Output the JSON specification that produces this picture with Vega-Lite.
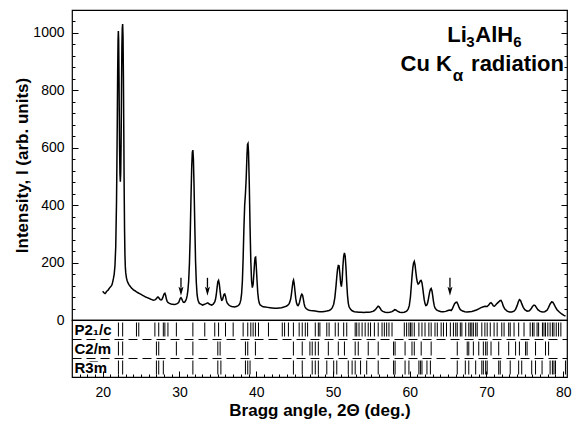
{
"$schema": "https://vega.github.io/schema/vega-lite/v6.json",
"padding": {"left": 13, "top": 8, "right": 6, "bottom": 5},
"background": "white",
"bounds": "flush",
"config": {
  "view": {"stroke": "black", "strokeWidth": 1.2},
  "font": "Liberation Sans",
  "axis": {"labelFont": "Liberation Sans", "labelFontSize": 14, "labelColor": "black", "titleFont": "Liberation Sans", "titleFontSize": 17, "titleFontWeight": "bold", "titleColor": "black", "tickColor": "black", "tickWidth": 1, "domain": false, "grid": false}
},
"datasets": {
"xrd": [
{"a":20.0,"i":100},{"a":20.1,"i":97},{"a":20.2,"i":94},{"a":20.3,"i":92},{"a":20.4,"i":95},{"a":20.5,"i":99},{"a":20.6,"i":102},{"a":20.7,"i":104},{"a":20.8,"i":108},{"a":20.9,"i":112},{"a":21.0,"i":115},{"a":21.1,"i":118},{"a":21.2,"i":122},{"a":21.3,"i":132},{"a":21.4,"i":145},{"a":21.5,"i":160},{"a":21.6,"i":190},{"a":21.7,"i":255},{"a":21.8,"i":410},{"a":21.85,"i":540},{"a":21.9,"i":690},{"a":21.95,"i":860},{"a":22.0,"i":975},{"a":22.04,"i":1007},{"a":22.08,"i":975},{"a":22.12,"i":860},{"a":22.16,"i":720},{"a":22.2,"i":600},{"a":22.25,"i":510},{"a":22.3,"i":482},{"a":22.35,"i":515},{"a":22.4,"i":620},{"a":22.45,"i":800},{"a":22.5,"i":950},{"a":22.55,"i":1015},{"a":22.6,"i":1031},{"a":22.65,"i":985},{"a":22.7,"i":850},{"a":22.75,"i":650},{"a":22.8,"i":450},{"a":22.85,"i":310},{"a":22.9,"i":225},{"a":22.95,"i":185},{"a":23.0,"i":165},{"a":23.1,"i":146},{"a":23.2,"i":136},{"a":23.3,"i":129},{"a":23.4,"i":124},{"a":23.5,"i":120},{"a":23.6,"i":117},{"a":23.7,"i":113},{"a":23.8,"i":110},{"a":23.9,"i":108},{"a":24.0,"i":105},{"a":24.2,"i":102},{"a":24.4,"i":98},{"a":24.6,"i":95},{"a":24.8,"i":92},{"a":25.0,"i":89},{"a":25.2,"i":86},{"a":25.4,"i":83},{"a":25.6,"i":80},{"a":25.8,"i":78},{"a":26.0,"i":76},{"a":26.2,"i":73},{"a":26.4,"i":71},{"a":26.6,"i":69},{"a":26.8,"i":70},{"a":26.9,"i":72},{"a":27.0,"i":75},{"a":27.1,"i":78},{"a":27.2,"i":80},{"a":27.3,"i":78},{"a":27.4,"i":74},{"a":27.5,"i":71},{"a":27.6,"i":70},{"a":27.7,"i":71},{"a":27.8,"i":76},{"a":27.9,"i":84},{"a":28.0,"i":91},{"a":28.1,"i":93},{"a":28.2,"i":86},{"a":28.3,"i":73},{"a":28.4,"i":65},{"a":28.5,"i":61},{"a":28.7,"i":58},{"a":28.9,"i":56},{"a":29.1,"i":55},{"a":29.3,"i":54},{"a":29.5,"i":55},{"a":29.7,"i":57},{"a":29.9,"i":61},{"a":30.0,"i":68},{"a":30.1,"i":75},{"a":30.2,"i":78},{"a":30.3,"i":74},{"a":30.4,"i":67},{"a":30.5,"i":62},{"a":30.6,"i":61},{"a":30.7,"i":63},{"a":30.8,"i":67},{"a":30.9,"i":73},{"a":31.0,"i":84},{"a":31.1,"i":102},{"a":31.2,"i":135},{"a":31.3,"i":195},{"a":31.4,"i":290},{"a":31.5,"i":420},{"a":31.6,"i":535},{"a":31.68,"i":585},{"a":31.75,"i":592},{"a":31.82,"i":560},{"a":31.9,"i":470},{"a":32.0,"i":330},{"a":32.1,"i":205},{"a":32.2,"i":130},{"a":32.3,"i":88},{"a":32.4,"i":71},{"a":32.5,"i":63},{"a":32.6,"i":58},{"a":32.8,"i":55},{"a":33.0,"i":52},{"a":33.2,"i":54},{"a":33.4,"i":56},{"a":33.6,"i":59},{"a":33.7,"i":60},{"a":33.8,"i":57},{"a":34.0,"i":54},{"a":34.2,"i":52},{"a":34.4,"i":55},{"a":34.6,"i":63},{"a":34.7,"i":72},{"a":34.8,"i":88},{"a":34.9,"i":112},{"a":35.0,"i":133},{"a":35.1,"i":138},{"a":35.2,"i":125},{"a":35.3,"i":100},{"a":35.4,"i":79},{"a":35.5,"i":69},{"a":35.6,"i":70},{"a":35.7,"i":79},{"a":35.8,"i":89},{"a":35.9,"i":91},{"a":36.0,"i":83},{"a":36.1,"i":69},{"a":36.2,"i":60},{"a":36.4,"i":53},{"a":36.6,"i":49},{"a":36.8,"i":47},{"a":37.0,"i":46},{"a":37.2,"i":45},{"a":37.4,"i":47},{"a":37.6,"i":49},{"a":37.8,"i":54},{"a":37.9,"i":60},{"a":38.0,"i":70},{"a":38.1,"i":92},{"a":38.2,"i":135},{"a":38.3,"i":215},{"a":38.4,"i":320},{"a":38.5,"i":400},{"a":38.6,"i":440},{"a":38.7,"i":495},{"a":38.8,"i":575},{"a":38.87,"i":612},{"a":38.93,"i":615},{"a":39.0,"i":585},{"a":39.1,"i":475},{"a":39.2,"i":325},{"a":39.3,"i":205},{"a":39.4,"i":135},{"a":39.5,"i":113},{"a":39.6,"i":124},{"a":39.7,"i":162},{"a":39.8,"i":203},{"a":39.87,"i":218},{"a":39.93,"i":219},{"a":40.0,"i":192},{"a":40.1,"i":142},{"a":40.2,"i":97},{"a":40.3,"i":72},{"a":40.4,"i":59},{"a":40.5,"i":53},{"a":40.7,"i":49},{"a":40.9,"i":46},{"a":41.2,"i":45},{"a":41.5,"i":44},{"a":41.8,"i":43},{"a":42.1,"i":42},{"a":42.4,"i":41},{"a":42.7,"i":41},{"a":43.0,"i":42},{"a":43.3,"i":43},{"a":43.6,"i":45},{"a":43.9,"i":48},{"a":44.1,"i":51},{"a":44.3,"i":57},{"a":44.4,"i":64},{"a":44.5,"i":74},{"a":44.6,"i":92},{"a":44.7,"i":115},{"a":44.8,"i":134},{"a":44.87,"i":139},{"a":44.95,"i":128},{"a":45.05,"i":102},{"a":45.15,"i":76},{"a":45.25,"i":60},{"a":45.35,"i":52},{"a":45.45,"i":50},{"a":45.55,"i":54},{"a":45.65,"i":62},{"a":45.75,"i":74},{"a":45.85,"i":85},{"a":45.95,"i":90},{"a":46.05,"i":86},{"a":46.15,"i":72},{"a":46.25,"i":56},{"a":46.35,"i":46},{"a":46.5,"i":40},{"a":46.7,"i":36},{"a":46.9,"i":34},{"a":47.1,"i":33},{"a":47.4,"i":32},{"a":47.7,"i":31},{"a":48.0,"i":30},{"a":48.3,"i":29},{"a":48.6,"i":29},{"a":48.9,"i":30},{"a":49.2,"i":31},{"a":49.5,"i":33},{"a":49.7,"i":36},{"a":49.9,"i":42},{"a":50.1,"i":55},{"a":50.25,"i":78},{"a":50.4,"i":118},{"a":50.5,"i":150},{"a":50.6,"i":176},{"a":50.7,"i":190},{"a":50.8,"i":189},{"a":50.9,"i":163},{"a":51.0,"i":130},{"a":51.1,"i":116},{"a":51.2,"i":138},{"a":51.3,"i":188},{"a":51.4,"i":222},{"a":51.5,"i":234},{"a":51.6,"i":222},{"a":51.7,"i":182},{"a":51.8,"i":128},{"a":51.9,"i":85},{"a":52.0,"i":59},{"a":52.1,"i":46},{"a":52.3,"i":37},{"a":52.5,"i":32},{"a":52.8,"i":29},{"a":53.1,"i":28},{"a":53.4,"i":27},{"a":53.7,"i":27},{"a":54.0,"i":26},{"a":54.3,"i":27},{"a":54.6,"i":27},{"a":54.9,"i":28},{"a":55.2,"i":30},{"a":55.4,"i":33},{"a":55.6,"i":38},{"a":55.75,"i":44},{"a":55.9,"i":48},{"a":56.0,"i":47},{"a":56.15,"i":41},{"a":56.3,"i":34},{"a":56.5,"i":30},{"a":56.8,"i":27},{"a":57.1,"i":26},{"a":57.4,"i":27},{"a":57.7,"i":29},{"a":57.9,"i":33},{"a":58.05,"i":36},{"a":58.2,"i":35},{"a":58.4,"i":31},{"a":58.7,"i":27},{"a":59.0,"i":26},{"a":59.3,"i":27},{"a":59.6,"i":31},{"a":59.8,"i":38},{"a":59.95,"i":50},{"a":60.1,"i":80},{"a":60.2,"i":115},{"a":60.3,"i":150},{"a":60.4,"i":180},{"a":60.5,"i":198},{"a":60.6,"i":204},{"a":60.7,"i":192},{"a":60.8,"i":168},{"a":60.9,"i":146},{"a":61.0,"i":131},{"a":61.1,"i":125},{"a":61.2,"i":127},{"a":61.3,"i":132},{"a":61.4,"i":137},{"a":61.5,"i":138},{"a":61.6,"i":130},{"a":61.7,"i":112},{"a":61.8,"i":90},{"a":61.9,"i":70},{"a":62.0,"i":57},{"a":62.1,"i":50},{"a":62.2,"i":51},{"a":62.3,"i":56},{"a":62.4,"i":67},{"a":62.5,"i":82},{"a":62.6,"i":97},{"a":62.7,"i":107},{"a":62.8,"i":110},{"a":62.9,"i":102},{"a":63.0,"i":85},{"a":63.1,"i":65},{"a":63.2,"i":50},{"a":63.3,"i":42},{"a":63.5,"i":35},{"a":63.8,"i":31},{"a":64.1,"i":29},{"a":64.4,"i":29},{"a":64.7,"i":30},{"a":64.9,"i":32},{"a":65.1,"i":34},{"a":65.25,"i":35},{"a":65.4,"i":33},{"a":65.55,"i":38},{"a":65.7,"i":48},{"a":65.85,"i":57},{"a":66.0,"i":61},{"a":66.15,"i":62},{"a":66.3,"i":54},{"a":66.45,"i":43},{"a":66.6,"i":36},{"a":66.9,"i":31},{"a":67.2,"i":29},{"a":67.5,"i":28},{"a":67.8,"i":29},{"a":68.1,"i":30},{"a":68.4,"i":32},{"a":68.7,"i":35},{"a":69.0,"i":39},{"a":69.3,"i":43},{"a":69.6,"i":46},{"a":69.85,"i":48},{"a":70.1,"i":47},{"a":70.3,"i":52},{"a":70.45,"i":58},{"a":70.6,"i":60},{"a":70.75,"i":56},{"a":70.9,"i":49},{"a":71.05,"i":48},{"a":71.2,"i":52},{"a":71.4,"i":58},{"a":71.6,"i":63},{"a":71.75,"i":67},{"a":71.9,"i":68},{"a":72.05,"i":61},{"a":72.2,"i":48},{"a":72.4,"i":38},{"a":72.7,"i":31},{"a":73.0,"i":28},{"a":73.3,"i":28},{"a":73.6,"i":31},{"a":73.8,"i":37},{"a":74.0,"i":50},{"a":74.15,"i":63},{"a":74.3,"i":71},{"a":74.45,"i":68},{"a":74.6,"i":57},{"a":74.8,"i":44},{"a":75.0,"i":36},{"a":75.3,"i":31},{"a":75.6,"i":32},{"a":75.8,"i":38},{"a":76.0,"i":47},{"a":76.2,"i":52},{"a":76.35,"i":50},{"a":76.5,"i":44},{"a":76.7,"i":36},{"a":77.0,"i":30},{"a":77.3,"i":28},{"a":77.6,"i":29},{"a":77.9,"i":34},{"a":78.1,"i":44},{"a":78.3,"i":56},{"a":78.5,"i":63},{"a":78.65,"i":62},{"a":78.8,"i":55},{"a":79.0,"i":45},{"a":79.2,"i":36},{"a":79.5,"i":28},{"a":79.8,"i":21},{"a":80.1,"i":16},{"a":80.3,"i":14}
],
"arrows": [{"a":30.2},{"a":33.65},{"a":65.25}],
"hkl": [
{"p":"P2₁/c","a":22.05},{"p":"P2₁/c","a":22.6},{"p":"P2₁/c","a":24.4},{"p":"P2₁/c","a":24.7},{"p":"P2₁/c","a":26.8},{"p":"P2₁/c","a":27.3},{"p":"P2₁/c","a":27.9},{"p":"P2₁/c","a":28.1},{"p":"P2₁/c","a":28.5},{"p":"P2₁/c","a":29.6},{"p":"P2₁/c","a":31.75},{"p":"P2₁/c","a":33.3},{"p":"P2₁/c","a":34.6},{"p":"P2₁/c","a":35.1},{"p":"P2₁/c","a":36.0},{"p":"P2₁/c","a":37.0},{"p":"P2₁/c","a":38.3},{"p":"P2₁/c","a":38.9},{"p":"P2₁/c","a":39.3},{"p":"P2₁/c","a":39.6},{"p":"P2₁/c","a":39.9},{"p":"P2₁/c","a":40.3},{"p":"P2₁/c","a":41.6},{"p":"P2₁/c","a":43.4},{"p":"P2₁/c","a":43.7},{"p":"P2₁/c","a":44.2},{"p":"P2₁/c","a":44.85},{"p":"P2₁/c","a":45.6},{"p":"P2₁/c","a":46.0},{"p":"P2₁/c","a":46.4},{"p":"P2₁/c","a":46.7},{"p":"P2₁/c","a":47.7},{"p":"P2₁/c","a":48.1},{"p":"P2₁/c","a":48.3},{"p":"P2₁/c","a":49.2},{"p":"P2₁/c","a":49.5},{"p":"P2₁/c","a":50.3},{"p":"P2₁/c","a":50.7},{"p":"P2₁/c","a":51.4},{"p":"P2₁/c","a":51.8},{"p":"P2₁/c","a":52.9},{"p":"P2₁/c","a":53.1},{"p":"P2₁/c","a":53.4},{"p":"P2₁/c","a":53.8},{"p":"P2₁/c","a":54.2},{"p":"P2₁/c","a":54.6},{"p":"P2₁/c","a":54.9},{"p":"P2₁/c","a":55.4},{"p":"P2₁/c","a":55.9},{"p":"P2₁/c","a":56.4},{"p":"P2₁/c","a":56.7},{"p":"P2₁/c","a":57.0},{"p":"P2₁/c","a":57.3},{"p":"P2₁/c","a":57.7},{"p":"P2₁/c","a":59.3},{"p":"P2₁/c","a":59.6},{"p":"P2₁/c","a":59.9},{"p":"P2₁/c","a":60.1},{"p":"P2₁/c","a":60.3},{"p":"P2₁/c","a":60.6},{"p":"P2₁/c","a":61.2},{"p":"P2₁/c","a":61.6},{"p":"P2₁/c","a":62.0},{"p":"P2₁/c","a":62.5},{"p":"P2₁/c","a":62.8},{"p":"P2₁/c","a":63.3},{"p":"P2₁/c","a":63.6},{"p":"P2₁/c","a":64.1},{"p":"P2₁/c","a":64.4},{"p":"P2₁/c","a":64.8},{"p":"P2₁/c","a":65.3},{"p":"P2₁/c","a":65.7},{"p":"P2₁/c","a":66.0},{"p":"P2₁/c","a":66.2},{"p":"P2₁/c","a":66.6},{"p":"P2₁/c","a":66.8},{"p":"P2₁/c","a":67.3},{"p":"P2₁/c","a":67.7},{"p":"P2₁/c","a":67.9},{"p":"P2₁/c","a":68.1},{"p":"P2₁/c","a":68.3},{"p":"P2₁/c","a":68.6},{"p":"P2₁/c","a":68.8},{"p":"P2₁/c","a":69.4},{"p":"P2₁/c","a":69.8},{"p":"P2₁/c","a":70.1},{"p":"P2₁/c","a":70.5},{"p":"P2₁/c","a":71.0},{"p":"P2₁/c","a":71.4},{"p":"P2₁/c","a":72.0},{"p":"P2₁/c","a":72.3},{"p":"P2₁/c","a":72.9},{"p":"P2₁/c","a":73.1},{"p":"P2₁/c","a":73.6},{"p":"P2₁/c","a":74.2},{"p":"P2₁/c","a":74.9},{"p":"P2₁/c","a":75.7},{"p":"P2₁/c","a":76.0},{"p":"P2₁/c","a":76.2},{"p":"P2₁/c","a":76.6},{"p":"P2₁/c","a":76.8},{"p":"P2₁/c","a":77.3},{"p":"P2₁/c","a":77.5},{"p":"P2₁/c","a":77.7},{"p":"P2₁/c","a":78.0},{"p":"P2₁/c","a":78.3},{"p":"P2₁/c","a":78.6},{"p":"P2₁/c","a":78.8},{"p":"P2₁/c","a":79.1},{"p":"P2₁/c","a":79.4},{"p":"P2₁/c","a":79.7},
{"p":"C2/m","a":22.05},{"p":"C2/m","a":22.6},{"p":"C2/m","a":27.0},{"p":"C2/m","a":27.3},{"p":"C2/m","a":29.6},{"p":"C2/m","a":31.75},{"p":"C2/m","a":35.0},{"p":"C2/m","a":35.3},{"p":"C2/m","a":38.6},{"p":"C2/m","a":38.9},{"p":"C2/m","a":39.9},{"p":"C2/m","a":44.85},{"p":"C2/m","a":46.0},{"p":"C2/m","a":47.0},{"p":"C2/m","a":47.3},{"p":"C2/m","a":47.7},{"p":"C2/m","a":48.1},{"p":"C2/m","a":49.4},{"p":"C2/m","a":50.7},{"p":"C2/m","a":51.5},{"p":"C2/m","a":52.9},{"p":"C2/m","a":53.3},{"p":"C2/m","a":54.6},{"p":"C2/m","a":55.9},{"p":"C2/m","a":57.9},{"p":"C2/m","a":58.1},{"p":"C2/m","a":59.4},{"p":"C2/m","a":60.3},{"p":"C2/m","a":60.6},{"p":"C2/m","a":61.5},{"p":"C2/m","a":62.8},{"p":"C2/m","a":66.2},{"p":"C2/m","a":67.5},{"p":"C2/m","a":67.7},{"p":"C2/m","a":68.3},{"p":"C2/m","a":69.0},{"p":"C2/m","a":69.6},{"p":"C2/m","a":69.9},{"p":"C2/m","a":70.1},{"p":"C2/m","a":70.6},{"p":"C2/m","a":71.6},{"p":"C2/m","a":72.9},{"p":"C2/m","a":73.8},{"p":"C2/m","a":74.3},{"p":"C2/m","a":75.1},{"p":"C2/m","a":75.3},{"p":"C2/m","a":76.4},{"p":"C2/m","a":77.7},{"p":"C2/m","a":78.1},
{"p":"R3̅m","a":22.05},{"p":"R3̅m","a":22.6},{"p":"R3̅m","a":27.0},{"p":"R3̅m","a":27.3},{"p":"R3̅m","a":27.9},{"p":"R3̅m","a":31.75},{"p":"R3̅m","a":35.0},{"p":"R3̅m","a":35.4},{"p":"R3̅m","a":38.6},{"p":"R3̅m","a":38.9},{"p":"R3̅m","a":39.2},{"p":"R3̅m","a":44.85},{"p":"R3̅m","a":46.0},{"p":"R3̅m","a":47.3},{"p":"R3̅m","a":47.7},{"p":"R3̅m","a":48.1},{"p":"R3̅m","a":49.2},{"p":"R3̅m","a":50.1},{"p":"R3̅m","a":50.5},{"p":"R3̅m","a":52.0},{"p":"R3̅m","a":52.5},{"p":"R3̅m","a":52.9},{"p":"R3̅m","a":53.6},{"p":"R3̅m","a":54.4},{"p":"R3̅m","a":55.9},{"p":"R3̅m","a":57.9},{"p":"R3̅m","a":58.1},{"p":"R3̅m","a":59.4},{"p":"R3̅m","a":59.9},{"p":"R3̅m","a":61.2},{"p":"R3̅m","a":61.4},{"p":"R3̅m","a":61.6},{"p":"R3̅m","a":62.25},{"p":"R3̅m","a":62.7},{"p":"R3̅m","a":66.2},{"p":"R3̅m","a":67.25},{"p":"R3̅m","a":67.7},{"p":"R3̅m","a":68.6},{"p":"R3̅m","a":69.4},{"p":"R3̅m","a":69.6},{"p":"R3̅m","a":69.9},{"p":"R3̅m","a":70.1},{"p":"R3̅m","a":71.6},{"p":"R3̅m","a":71.8},{"p":"R3̅m","a":73.1},{"p":"R3̅m","a":74.2},{"p":"R3̅m","a":74.6},{"p":"R3̅m","a":75.9},{"p":"R3̅m","a":76.4},{"p":"R3̅m","a":77.25},{"p":"R3̅m","a":78.3},{"p":"R3̅m","a":78.6},{"p":"R3̅m","a":78.8},{"p":"R3̅m","a":79.0},{"p":"R3̅m","a":80.3}
]
},
"spacing": 0,
"vconcat": [
{
  "width": 495, "height": 310,
  "resolve": {"axis": {"y": "independent"}},
  "layer": [
    {
      "data": {"name": "xrd"},
      "mark": {"type": "line", "color": "black", "strokeWidth": 1.5},
      "encoding": {
        "x": {"field": "a", "type": "quantitative", "scale": {"domain": [16, 80.5], "nice": false, "zero": false},
          "axis": {"orient": "top", "values": [17,18,19,20,21,22,23,24,25,26,27,28,29,30,31,32,33,34,35,36,37,38,39,40,41,42,43,44,45,46,47,48,49,50,51,52,53,54,55,56,57,58,59,60,61,62,63,64,65,66,67,68,69,70,71,72,73,74,75,76,77,78,79,80], "labels": false, "title": null,
            "tickSize": {"condition": {"test": "datum.value % 10 === 0", "value": -6}, "value": -3}}},
        "y": {"field": "i", "type": "quantitative", "scale": {"domain": [0, 1080], "nice": false},
          "axis": {"orient": "left", "values": [0,40,80,120,160,200,240,280,320,360,400,440,480,520,560,600,640,680,720,760,800,840,880,920,960,1000,1040,1080],
            "format": "d", "labelExpr": "datum.value % 200 === 0 ? datum.label : ''", "labelPadding": 14, "titlePadding": 1,
            "tickSize": {"condition": {"test": "datum.value % 200 === 0", "value": -6}, "value": -3},
            "title": "Intensity, I (arb. units)"}}
      }
    },
    {
      "data": {"name": "arrows"},
      "mark": {"type": "rule", "color": "black", "strokeWidth": 1.3},
      "encoding": {
        "x": {"field": "a", "type": "quantitative", "axis": null},
        "y": {"datum": 147, "type": "quantitative",
          "axis": {"orient": "right", "values": [0,40,80,120,160,200,240,280,320,360,400,440,480,520,560,600,640,680,720,760,800,840,880,920,960,1000,1040,1080], "labels": false, "title": null,
            "tickSize": {"condition": {"test": "datum.value % 200 === 0", "value": -6}, "value": -3}}},
        "y2": {"datum": 112}
      }
    },
    {
      "data": {"name": "arrows"},
      "mark": {"type": "point", "shape": "M-0.55,-1L0,-0.6L0.55,-1L0,1Z", "filled": true, "color": "black", "size": 81, "opacity": 1},
      "encoding": {
        "x": {"field": "a", "type": "quantitative", "axis": null},
        "y": {"datum": 100, "type": "quantitative", "axis": null}
      }
    },
    {
      "data": {"values": [{"t": "Li"}]},
      "mark": {"type": "text", "font": "Liberation Sans", "fontWeight": "bold", "fontSize": 22, "align": "left", "baseline": "alphabetic", "color": "black"},
      "encoding": {"x": {"datum": 64.9, "type": "quantitative", "axis": null}, "y": {"datum": 970, "type": "quantitative", "axis": null}, "text": {"field": "t"}}
    },
    {
      "data": {"values": [{"t": "3"}]},
      "mark": {"type": "text", "font": "Liberation Sans", "fontWeight": "bold", "fontSize": 15, "align": "left", "baseline": "alphabetic", "color": "black", "dx": 19, "dy": 5},
      "encoding": {"x": {"datum": 64.9, "type": "quantitative", "axis": null}, "y": {"datum": 970, "type": "quantitative", "axis": null}, "text": {"field": "t"}}
    },
    {
      "data": {"values": [{"t": "AlH"}]},
      "mark": {"type": "text", "font": "Liberation Sans", "fontWeight": "bold", "fontSize": 22, "align": "left", "baseline": "alphabetic", "color": "black", "dx": 28},
      "encoding": {"x": {"datum": 64.9, "type": "quantitative", "axis": null}, "y": {"datum": 970, "type": "quantitative", "axis": null}, "text": {"field": "t"}}
    },
    {
      "data": {"values": [{"t": "6"}]},
      "mark": {"type": "text", "font": "Liberation Sans", "fontWeight": "bold", "fontSize": 15, "align": "left", "baseline": "alphabetic", "color": "black", "dx": 66, "dy": 5},
      "encoding": {"x": {"datum": 64.9, "type": "quantitative", "axis": null}, "y": {"datum": 970, "type": "quantitative", "axis": null}, "text": {"field": "t"}}
    },
    {
      "data": {"values": [{"t": "Cu K"}]},
      "mark": {"type": "text", "font": "Liberation Sans", "fontWeight": "bold", "fontSize": 22, "align": "right", "baseline": "alphabetic", "color": "black"},
      "encoding": {"x": {"datum": 65.5, "type": "quantitative", "axis": null}, "y": {"datum": 869, "type": "quantitative", "axis": null}, "text": {"field": "t"}}
    },
    {
      "data": {"values": [{"t": "α"}]},
      "mark": {"type": "text", "font": "Liberation Sans", "fontWeight": "bold", "fontSize": 17, "align": "left", "baseline": "alphabetic", "color": "black"},
      "encoding": {"x": {"datum": 65.6, "type": "quantitative", "axis": null}, "y": {"datum": 833, "type": "quantitative", "axis": null}, "text": {"field": "t"}}
    },
    {
      "data": {"values": [{"t": "radiation"}]},
      "mark": {"type": "text", "font": "Liberation Sans", "fontWeight": "bold", "fontSize": 22, "align": "left", "baseline": "alphabetic", "color": "black"},
      "encoding": {"x": {"datum": 68.0, "type": "quantitative", "axis": null}, "y": {"datum": 869, "type": "quantitative", "axis": null}, "text": {"field": "t"}}
    }
  ]
},
{
  "width": 495, "height": 57,
  "data": {"name": "hkl"},
  "mark": {"type": "tick", "color": "black", "thickness": 1, "size": 14, "opacity": 1},
  "encoding": {
    "x": {"field": "a", "type": "quantitative", "scale": {"domain": [16, 80.5], "nice": false, "zero": false},
      "axis": {"orient": "bottom", "values": [17,18,19,20,21,22,23,24,25,26,27,28,29,30,31,32,33,34,35,36,37,38,39,40,41,42,43,44,45,46,47,48,49,50,51,52,53,54,55,56,57,58,59,60,61,62,63,64,65,66,67,68,69,70,71,72,73,74,75,76,77,78,79,80],
        "labelExpr": "datum.value % 10 === 0 ? datum.label : ''", "labelPadding": 14, "titlePadding": 3,
        "tickSize": {"condition": {"test": "datum.value % 10 === 0", "value": -6}, "value": -3},
        "title": "Bragg angle, 2Θ (deg.)"}},
    "y": {"field": "p", "type": "nominal", "sort": null,
      "scale": {"domain": ["P2₁/c", "C2/m", "R3̅m"], "paddingInner": 0, "paddingOuter": 0},
      "axis": {"orient": "left", "labels": true, "labelAlign": "left", "labelBaseline": "middle", "labelPadding": -2, "labelOffset": 0, "labelFont": "Liberation Sans", "labelFontWeight": "bold", "labelFontSize": 15, "labelColor": "black",
        "ticks": false, "domain": false, "title": null, "grid": true, "bandPosition": 0, "gridColor": "black", "gridWidth": 1, "gridDash": [9, 5]}}
  }
}
]
}
